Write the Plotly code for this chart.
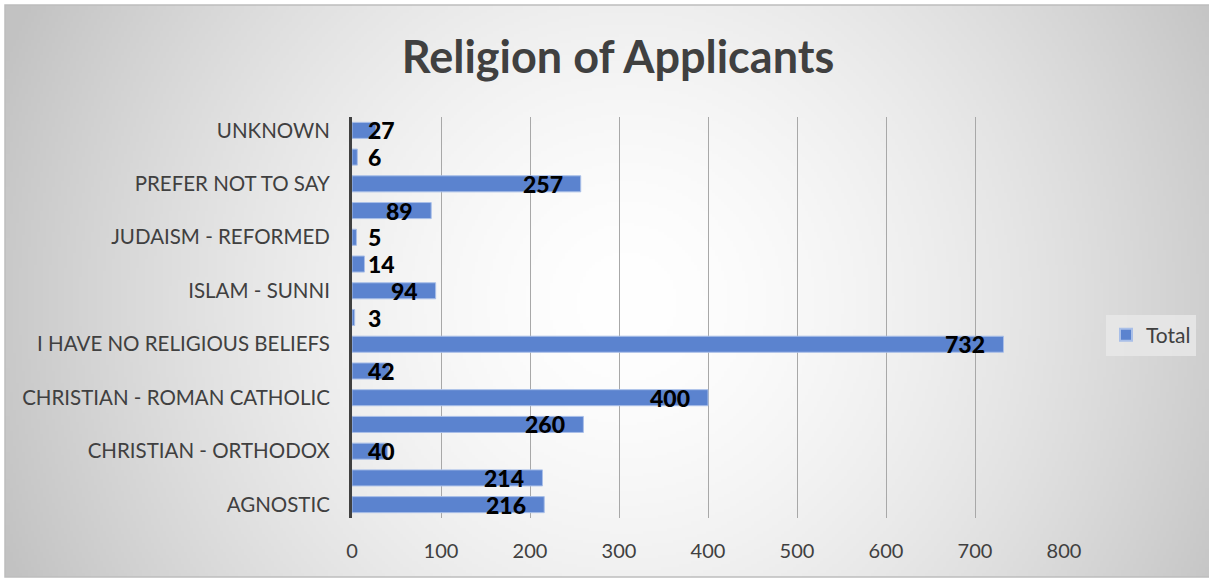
import base64, struct, zlib
import numpy as np
import plotly.graph_objects as go

# ---------------- data ----------------
categories = [
    "AGNOSTIC", "BUDDHISM", "CHRISTIAN - ORTHODOX", "CHRISTIAN - PROTESTANT",
    "CHRISTIAN - ROMAN CATHOLIC", "HINDUISM", "I HAVE NO RELIGIOUS BELIEFS",
    "ISLAM - SHIA", "ISLAM - SUNNI", "JUDAISM - ORTHODOX", "JUDAISM - REFORMED",
    "OTHER", "PREFER NOT TO SAY", "SIKHISM", "UNKNOWN",
]
totals = [216, 214, 40, 260, 400, 42, 732, 3, 94, 14, 5, 89, 257, 6, 27]
shown_labels = categories[::2]
x_ticks = [0, 100, 200, 300, 400, 500, 600, 700, 800]

# ---------------- figure geometry ----------------
L, R, T, B = 352, 145, 117, 60
FW, FH = 1209, 578
pw, ph = FW - L - R, FH - T - B
def px_x(p):
    return (p - L) / pw
def px_y(p):
    return (FH - B - p) / ph

# chart-area box (pixels)
BX0, BX1, BY0, BY1 = 5, 1209, 5, 577

# ---------------- background gradient (radial, white centre -> grey edges) ----------------
def png_data_uri(arr):
    h, w = arr.shape[:2]
    raw = b"".join(b"\x00" + arr[i].tobytes() for i in range(h))
    def chunk(tag, data):
        c = struct.pack(">I", len(data)) + tag + data
        return c + struct.pack(">I", zlib.crc32(tag + data) & 0xffffffff)
    png = b"\x89PNG\r\n\x1a\n" + chunk(b"IHDR", struct.pack(">IIBBBBB", w, h, 8, 2, 0, 0, 0)) \
        + chunk(b"IDAT", zlib.compress(raw, 9)) + chunk(b"IEND", b"")
    return "data:image/png;base64," + base64.b64encode(png).decode()

S = 3
W, H = (BX1 - BX0) // S, (BY1 - BY0) // S
yy, xx = np.mgrid[0:H, 0:W]
px = BX0 + xx * S
py = BY0 + yy * S
cxp, cyp = 625, 300
dist = np.sqrt((px - cxp) ** 2 + (py - cyp) ** 2)
dmax = np.sqrt((cxp - BX0) ** 2 + (cyp - BY0) ** 2) * 0.98
d = np.clip(dist / dmax, 0, 1)
val = 255 - (255 - 194) * d ** 1.6
img = np.repeat(val[:, :, None], 3, axis=2).astype(np.uint8)
bg_uri = png_data_uri(img)

fig = go.Figure()
fig.add_trace(go.Bar(
    y=categories, x=totals, orientation="h", name="Total",
    marker=dict(color="#5b83cf", line=dict(color="#a9bfe8", width=1)),
    hoverinfo="x+y",
))

# data labels: inside end for long bars, near axis for short bars
annotations = []
for cat, v in zip(categories, totals):
    if v >= 70:
        ax_x, anchor, xs = v, "right", -16
    else:
        ax_x, anchor, xs = 0, "left", 14
    annotations.append(dict(
        x=ax_x, y=cat, xref="x", yref="y", text=str(v), showarrow=False,
        xanchor=anchor, yanchor="middle", xshift=xs, yshift=0,
        font=dict(family="Lato", size=23, color="#000000", weight=900),
    ))

fig.update_layout(
    width=FW, height=FH,
    margin=dict(l=L, r=R, t=T, b=B, autoexpand=False),
    paper_bgcolor="white", plot_bgcolor="rgba(0,0,0,0)",
    title=dict(text="<b>Religion of Applicants</b>", x=(618) / FW, xref="container",
               xanchor="center", y=1 - 57 / FH, yanchor="middle",
               font=dict(family="Lato", size=45, color="#404040")),
    bargap=0.4,
    showlegend=True,
    legend=dict(x=px_x(1106), y=px_y(335), xanchor="left", yanchor="middle",
                bgcolor="rgba(232,232,232,0.85)", borderwidth=0,
                font=dict(family="Lato", size=21, color="#404040"),
                itemsizing="constant"),
    font=dict(family="Lato", color="#404040"),
    annotations=annotations,
    images=[dict(source=bg_uri, xref="paper", yref="paper",
                 x=px_x(BX0), y=px_y(BY0), sizex=px_x(BX1) - px_x(BX0),
                 sizey=px_y(BY0) - px_y(BY1), xanchor="left", yanchor="top",
                 sizing="stretch", layer="below")],
    shapes=[dict(type="rect", xref="paper", yref="paper",
                 x0=px_x(BX0), x1=px_x(BX1 + 2), y0=px_y(BY1), y1=px_y(BY0),
                 line=dict(color="#bdbdbd", width=1.5), layer="below")],
)
fig.update_xaxes(range=[0, 800], tickvals=x_ticks, showgrid=True,
                 gridcolor="#a8a8a8", gridwidth=1, zeroline=False,
                 showline=False, ticks="", tickfont=dict(size=20, color="#404040"),
                 ticklabelstandoff=19, fixedrange=True, automargin=False)
fig.update_yaxes(type="category", categoryorder="array", categoryarray=categories,
                 range=[-0.5, len(categories) - 0.5],
                 tickvals=shown_labels, ticktext=shown_labels,
                 showline=True, linecolor="#404040", linewidth=3,
                 showgrid=False, ticks="", ticklabelstandoff=15,
                 tickfont=dict(size=20.5, color="#404040"), fixedrange=True,
                 automargin=False)

fig.write_html("out.html", config={"displayModeBar": False},
               post_script="document.body.style.margin='0';document.body.style.overflow='hidden';")
